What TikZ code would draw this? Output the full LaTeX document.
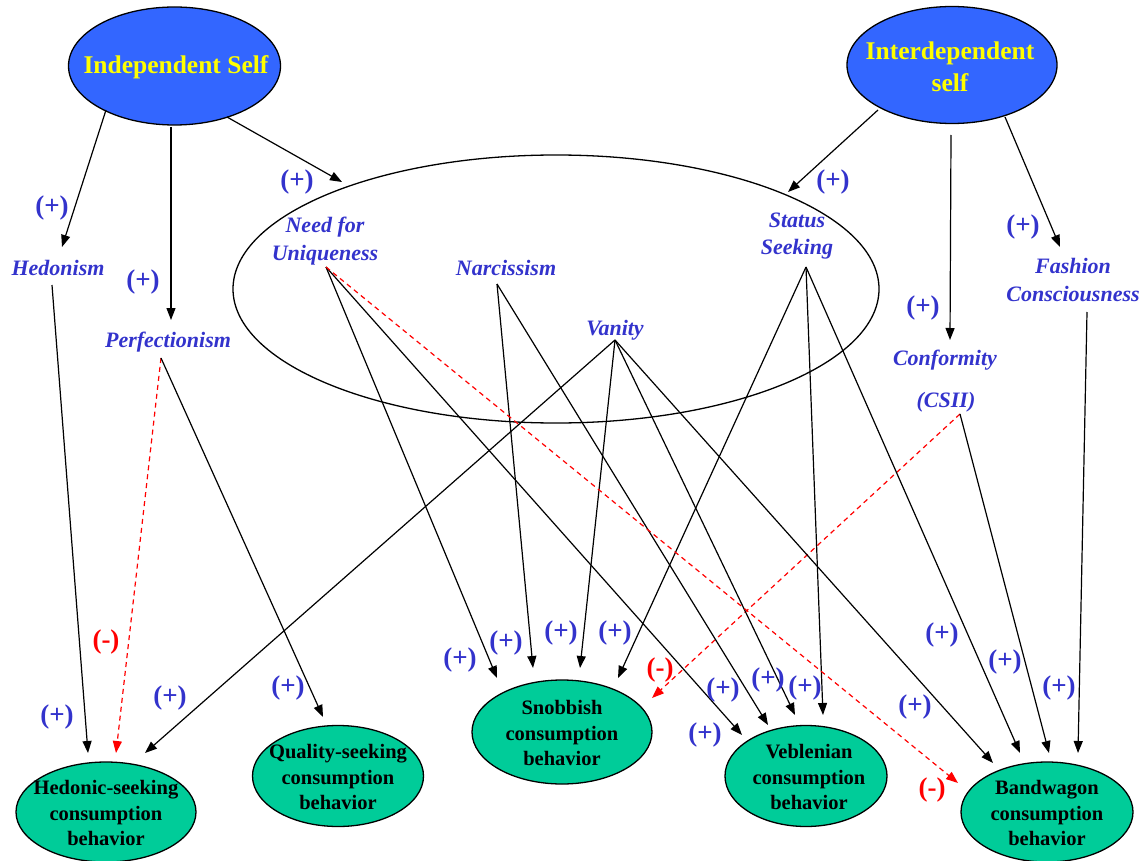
\documentclass[tikz,border=0pt]{standalone}
\usepackage{fontspec}
\setmainfont{Liberation Serif}
\usetikzlibrary{shapes.geometric,arrows.meta}
\definecolor{selfblue}{RGB}{51,102,255}
\definecolor{selfyellow}{RGB}{255,255,0}
\definecolor{outgreen}{RGB}{0,204,153}
\definecolor{lblblue}{RGB}{51,51,204}
\definecolor{negred}{RGB}{255,0,0}
\begin{document}
\begin{tikzpicture}[x=1pt,y=-1pt,
  selfshape/.style={ellipse, draw=black, line width=1.3pt, fill=selfblue, inner sep=0pt},
  selftext/.style={text=selfyellow, font=\fontsize{25.5}{32}\selectfont\bfseries, align=center, inner sep=0pt},
  outshape/.style={ellipse, draw=black, line width=1.3pt, fill=outgreen, inner sep=0pt},
  outtext/.style={text=black, font=\fontsize{20.5}{25.3}\selectfont\bfseries, align=center, inner sep=0pt},
  construct/.style={text=lblblue, font=\fontsize{22}{27.5}\selectfont\bfseries\itshape, align=center, inner sep=0pt},
  poslbl/.style={text=lblblue, font=\fontsize{27}{30}\selectfont\bfseries, inner sep=0pt},
  neglbl/.style={text=negred, font=\fontsize{27}{30}\selectfont\bfseries, inner sep=0pt},
  link/.style={line width=1.2pt, -{Triangle[length=12pt,width=9pt]}},
  neglink/.style={line width=1.2pt, draw=negred, dash pattern=on 5pt off 4pt, -{Triangle[length=12pt,width=9pt]}}
]
\useasboundingbox (0,0) rectangle (1145,861);

% top self nodes
\node[selfshape, minimum width=212pt, minimum height=118pt] (ind) at (174.5,66) {};
\node[selftext] (indT) at (176,67) {Independent Self};
\node[selfshape, minimum width=210pt, minimum height=117pt] (inter) at (952,65) {};
\node[selftext] (interT) at (950,67) {Interdependent\\self};

% grouping ellipse
\node[ellipse, draw=black, line width=1.3pt, minimum width=646pt, minimum height=268pt, inner sep=0pt] (group) at (556,289) {};

% constructs
\node[construct] (hed) at (58,268) {Hedonism};
\node[construct] (perf) at (168,342) {Perfectionism};
\node[construct] (nfu) at (325,241) {Need for\\Uniqueness};
\node[construct] (narc) at (506,268) {Narcissism};
\node[construct] (van) at (615,330) {Vanity};
\node[construct] (stat) at (797,236) {Status\\Seeking};
\node[construct] (fash) at (1073,280) {Fashion\\Consciousness};
\node[construct] (conf) at (945,360) {Conformity};
\node[construct] (csii) at (946,402) {(CSII)};

% outcome nodes
\node[outshape, minimum width=180pt, minimum height=100pt] (hs) at (106,812) {};
\node[outtext] (hsT) at (106,813) {Hedonic-seeking\\consumption\\behavior};
\node[outshape, minimum width=171pt, minimum height=101pt] (qs) at (338,776) {};
\node[outtext] (qsT) at (338,777) {Quality-seeking\\consumption\\behavior};
\node[outshape, minimum width=180pt, minimum height=104pt] (snob) at (562,732) {};
\node[outtext] (snobT) at (562,733) {Snobbish\\consumption\\behavior};
\node[outshape, minimum width=162pt, minimum height=101pt] (veb) at (806,776) {};
\node[outtext] (vebT) at (809,777) {Veblenian\\consumption\\behavior};
\node[outshape, minimum width=172pt, minimum height=100pt] (band) at (1047,812) {};
\node[outtext] (bandT) at (1047,813) {Bandwagon\\consumption\\behavior};

% connector end points
\coordinate (indA) at (106,110);
\coordinate (indB) at (171,127);
\coordinate (indC) at (227,117);
\coordinate (interA) at (878,110);
\coordinate (interB) at (951,135);
\coordinate (interC) at (1005,117);
\coordinate (hedIn) at (62,247);
\coordinate (perfIn) at (171,320);
\coordinate (grpInL) at (342,182);
\coordinate (grpInR) at (788,192);
\coordinate (confIn) at (950,340);
\coordinate (fashIn) at (1060,247);
\coordinate (hedO) at (52,285);
\coordinate (perfO) at (161,358);
\coordinate (nfuO) at (326,267);
\coordinate (narcO) at (497,284);
\coordinate (vanO) at (615,340);
\coordinate (statO) at (806,267);
\coordinate (csiiO) at (960,414);
\coordinate (fashO) at (1087,312);
\coordinate (hsA) at (88,753);
\coordinate (hsB) at (116,753);
\coordinate (hsC) at (145,753);
\coordinate (qsA) at (323,717);
\coordinate (snobA) at (497,678);
\coordinate (snobB) at (533,668);
\coordinate (snobC) at (580,668);
\coordinate (snobD) at (618,678);
\coordinate (snobE) at (652,698);
\coordinate (vebA) at (742,735);
\coordinate (vebB) at (768,725);
\coordinate (vebC) at (795,715);
\coordinate (vebD) at (823,715);
\coordinate (bandA) at (993,763);
\coordinate (bandB) at (1020,753);
\coordinate (bandC) at (1049,753);
\coordinate (bandD) at (1078,753);
\coordinate (bandE) at (958,783);

% connectors
\draw[link] (indA) -- (hedIn);
\draw[link] (indB) -- (perfIn);
\draw[link] (indC) -- (grpInL);
\draw[link] (interA) -- (grpInR);
\draw[link] (interB) -- (confIn);
\draw[link] (interC) -- (fashIn);
\draw[link] (hedO) -- (hsA);
\draw[neglink] (perfO) -- (hsB);
\draw[link] (perfO) -- (qsA);
\draw[link] (vanO) -- (hsC);
\draw[link] (nfuO) -- (snobA);
\draw[link] (narcO) -- (snobB);
\draw[link] (vanO) -- (snobC);
\draw[link] (statO) -- (snobD);
\draw[neglink] (csiiO) -- (snobE);
\draw[link] (nfuO) -- (vebA);
\draw[link] (narcO) -- (vebB);
\draw[link] (vanO) -- (vebC);
\draw[link] (statO) -- (vebD);
\draw[link] (vanO) -- (bandA);
\draw[link] (statO) -- (bandB);
\draw[link] (csiiO) -- (bandC);
\draw[link] (fashO) -- (bandD);
\draw[neglink] (nfuO) -- (bandE);

% sign labels
\node[poslbl] (l1) at (52,208) {(+)};
\node[poslbl] (l2) at (143,282) {(+)};
\node[poslbl] (l3) at (297,182) {(+)};
\node[poslbl] (l4) at (833,182) {(+)};
\node[poslbl] (l5) at (923,308) {(+)};
\node[poslbl] (l6) at (1023,227) {(+)};
\node[poslbl] (l7) at (57,717) {(+)};
\node[neglbl] (l8) at (106,642) {(-)};
\node[poslbl] (l9) at (288,688) {(+)};
\node[poslbl] (l10) at (170,698) {(+)};
\node[poslbl] (l11) at (460,660) {(+)};
\node[poslbl] (l12) at (506,643) {(+)};
\node[poslbl] (l13) at (561,633) {(+)};
\node[poslbl] (l14) at (615,633) {(+)};
\node[neglbl] (l15) at (660,670) {(-)};
\node[poslbl] (l16) at (705,735) {(+)};
\node[poslbl] (l17) at (723,690) {(+)};
\node[poslbl] (l18) at (768,680) {(+)};
\node[poslbl] (l19) at (805,688) {(+)};
\node[poslbl] (l20) at (915,707) {(+)};
\node[poslbl] (l21) at (942,635) {(+)};
\node[poslbl] (l22) at (1005,662) {(+)};
\node[poslbl] (l23) at (1059,688) {(+)};
\node[neglbl] (l24) at (932,790) {(-)};
\end{tikzpicture}
\end{document}
